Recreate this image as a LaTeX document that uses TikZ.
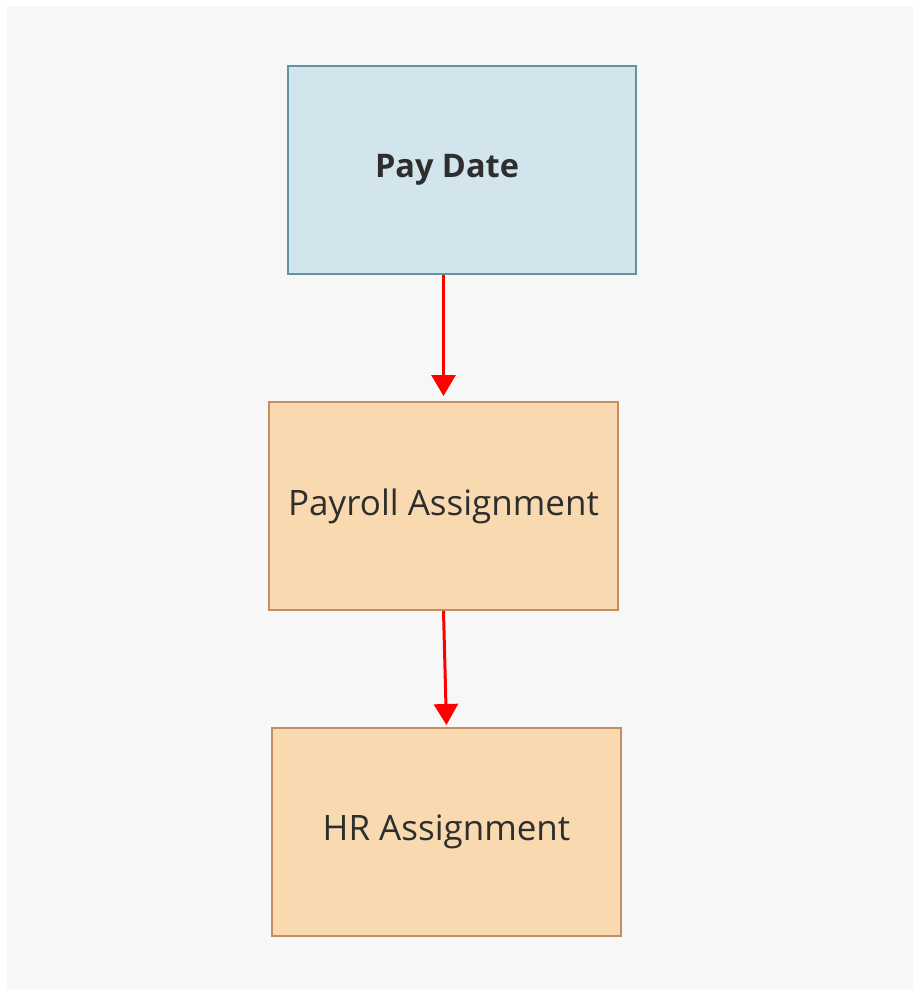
\documentclass[tikz,border=0pt]{standalone}
\usepackage{fontspec}
\setmainfont{Open Sans}
\usetikzlibrary{arrows.meta}

\definecolor{bggray}{HTML}{F7F7F7}
\definecolor{datefill}{HTML}{D3E5EC}
\definecolor{dateline}{HTML}{6293A1}
\definecolor{asgfill}{HTML}{F9DAB0}
\definecolor{asgline}{HTML}{C48E62}
\definecolor{textgray}{HTML}{2E2E2E}

\begin{document}
\begin{tikzpicture}[x=1pt,y=-1pt,>={Triangle[width=24pt,length=21pt]}]
    \tikzstyle{datebox}=[rectangle, draw=dateline, fill=datefill, line width=2pt,
        minimum width=348pt, minimum height=208pt, text=textgray, font=\fontsize{32.5}{40}\selectfont\bfseries]
    \tikzstyle{asgbox}=[rectangle, draw=asgline, fill=asgfill, line width=2pt,
        minimum width=349pt, minimum height=208pt, text=textgray, font=\fontsize{35}{40}\selectfont]
    \tikzstyle{flow}=[->, red, line width=3pt, shorten >=5pt]

    % Page and background
    \useasboundingbox (0,0) rectangle (913,989);
    \fill[white] (0,0) rectangle (913,989);
    \fill[bggray] (7,6) rectangle (913,989);

    % Draw the boxes
    \node[datebox] (PD) at (462,170) {\hspace*{-30pt}Pay Date};
    \node[asgbox] (PA) at (443.5,506) {Payroll Assignment};
    \node[asgbox] (HR) at (446.5,832) {HR Assignment};

    % Connect the boxes
    \draw[flow] (PD.south -| PA.north) -- (PA.north);
    \draw[flow, shorten >=2pt] (PA.south) -- (HR.north);
\end{tikzpicture}
\end{document}
